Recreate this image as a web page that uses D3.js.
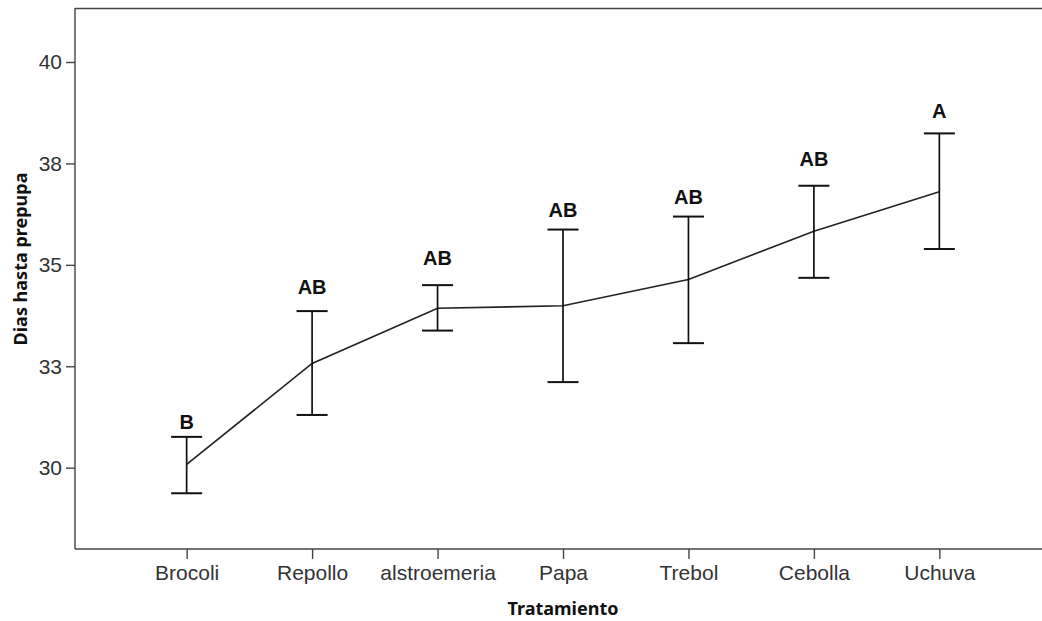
<!DOCTYPE html>
<html>
<head>
<meta charset="utf-8">
<script src="https://cdn.jsdelivr.net/npm/d3@7"></script>
<style>
  html, body { margin: 0; padding: 0; background: #fff; }
  svg { display: block; }
</style>
</head>
<body>
<svg id="chart" width="1042" height="621"></svg>
<script>
// Treatment groups along the x axis
const categories = ["Brocoli", "Repollo", "alstroemeria", "Papa", "Trebol", "Cebolla", "Uchuva"];
// Mean days to prepupa and the limits of each error bar
const means = [30.08, 32.57, 33.93, 33.99, 34.64, 35.83, 36.80];
const lower = [29.37, 31.30, 33.38, 32.11, 33.07, 34.68, 35.39];
const upper = [30.76, 33.86, 34.50, 35.87, 36.19, 36.95, 38.24];
// Group letters from the multiple comparison test, and the value each letter sits at
const letters = ["B", "AB", "AB", "AB", "AB", "AB", "A"];
const letterAt = [30.95, 34.28, 35.0, 36.19, 36.50, 37.44, 38.61];
// Y axis ticks and their printed labels
const yTicks = [30, 32.5, 35, 37.5, 40];
const yTickLabels = ["30", "33", "35", "38", "40"];

const svg = d3.select("#chart");
const plotLeft = 75, plotTop = 8, plotBottom = 549, plotRight = 1051;

const x = d3.scalePoint().domain(categories).range([plotLeft, plotRight]).padding(0.89);
const y = d3.scaleLinear().domain([30, 40]).range([467.7, 62]);

const axisColor = "#444";
const textColor = "#333";
const tickFont = "'Liberation Sans', Arial, sans-serif";

// Frame: top edge
svg.append("line")
  .attr("x1", plotLeft).attr("x2", 1042).attr("y1", plotTop + 0.5).attr("y2", plotTop + 0.5)
  .attr("stroke", axisColor).attr("stroke-width", 1.4);

// Y axis
const yAxis = svg.append("g")
  .attr("transform", `translate(${plotLeft},0)`)
  .call(d3.axisLeft(y).tickValues(yTicks)
    .tickFormat((d, i) => yTickLabels[i]).tickSize(9).tickPadding(4));
yAxis.select(".domain").attr("d", `M0,${plotTop}V${plotBottom}`)
  .attr("stroke", axisColor).attr("stroke-width", 1.4);
yAxis.selectAll(".tick line").attr("stroke", axisColor).attr("stroke-width", 1.4);
yAxis.selectAll(".tick text")
  .attr("fill", textColor).attr("font-family", tickFont).attr("font-size", 21);

// X axis
const xAxis = svg.append("g")
  .attr("transform", `translate(0,${plotBottom})`)
  .call(d3.axisBottom(x).tickSize(10).tickPadding(6));
xAxis.select(".domain").attr("d", `M${plotLeft},0H1042`)
  .attr("stroke", axisColor).attr("stroke-width", 1.4);
xAxis.selectAll(".tick line").attr("stroke", axisColor).attr("stroke-width", 1.4);
xAxis.selectAll(".tick text")
  .attr("fill", textColor).attr("font-family", tickFont).attr("font-size", 21);

// Axis titles
svg.append("text")
  .attr("x", x("Papa")).attr("y", 615)
  .attr("text-anchor", "middle")
  .attr("font-family", "'Noto Sans', 'DejaVu Sans', sans-serif")
  .attr("font-weight", "bold").attr("font-size", 18).attr("fill", "#111")
  .text("Tratamiento");

svg.append("text")
  .attr("transform", `translate(27,${259}) rotate(-90)`)
  .attr("text-anchor", "middle")
  .attr("font-family", "'Noto Sans', 'DejaVu Sans', sans-serif")
  .attr("font-weight", "bold").attr("font-size", 18).attr("fill", "#111")
  .text("Dias hasta prepupa");

const rows = categories.map((c, i) => ({
  c, m: means[i], lo: lower[i], hi: upper[i], letter: letters[i], la: letterAt[i]
}));

// Mean line
svg.append("path")
  .datum(rows)
  .attr("fill", "none").attr("stroke", "#222").attr("stroke-width", 1.6)
  .attr("d", d3.line().x(d => x(d.c)).y(d => y(d.m)));

// Error bars
const capHalf = 15.5;
const bars = svg.append("g").selectAll("g").data(rows).join("g");
bars.append("line")
  .attr("x1", d => x(d.c)).attr("x2", d => x(d.c))
  .attr("y1", d => y(d.hi)).attr("y2", d => y(d.lo))
  .attr("stroke", "#111").attr("stroke-width", 1.7);
bars.append("line")
  .attr("x1", d => x(d.c) - capHalf).attr("x2", d => x(d.c) + capHalf)
  .attr("y1", d => y(d.hi)).attr("y2", d => y(d.hi))
  .attr("stroke", "#111").attr("stroke-width", 2);
bars.append("line")
  .attr("x1", d => x(d.c) - capHalf).attr("x2", d => x(d.c) + capHalf)
  .attr("y1", d => y(d.lo)).attr("y2", d => y(d.lo))
  .attr("stroke", "#111").attr("stroke-width", 2);

// Group letters
bars.append("text")
  .attr("x", d => x(d.c)).attr("y", d => y(d.la))
  .attr("text-anchor", "middle")
  .attr("font-family", tickFont).attr("font-weight", "bold").attr("font-size", 20)
  .attr("fill", "#111")
  .text(d => d.letter);
</script>
</body>
</html>
